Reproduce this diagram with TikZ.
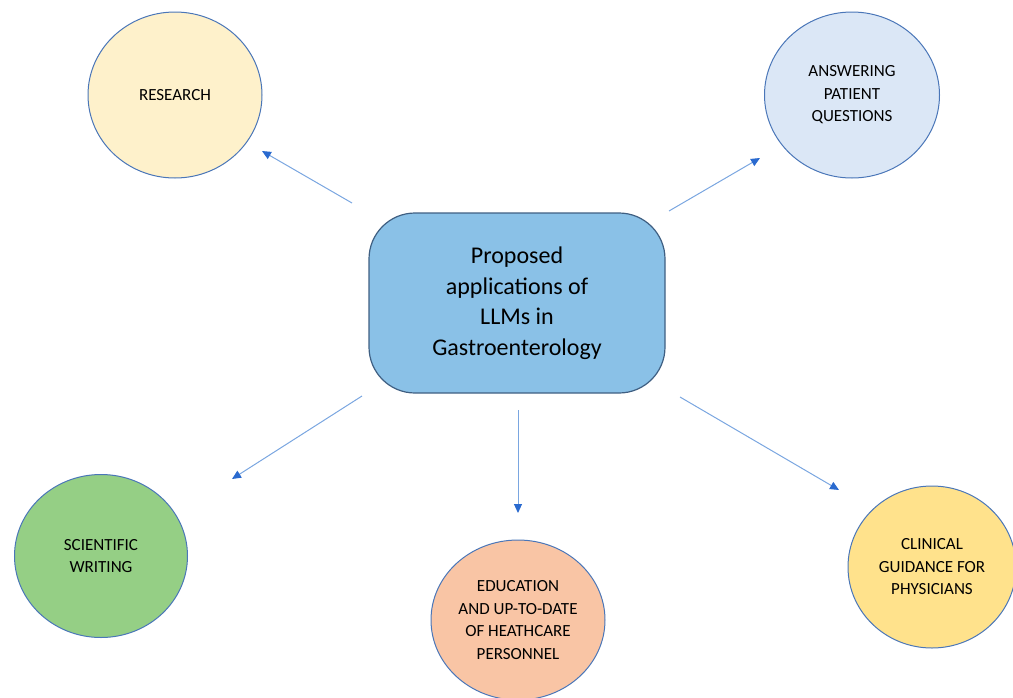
\documentclass[tikz,border=0pt]{standalone}
\usepackage{fontspec}
\setmainfont{Carlito}
\usetikzlibrary{shapes.geometric,arrows.meta}
\definecolor{outl}{HTML}{4A76B8}
\definecolor{boxl}{HTML}{3F5F82}
\definecolor{arr}{HTML}{7AA6E0}
\definecolor{arrh}{HTML}{2A6ACF}
\definecolor{cres}{HTML}{FEF1CB}
\definecolor{cans}{HTML}{DBE7F6}
\definecolor{cmain}{HTML}{8AC1E7}
\definecolor{csci}{HTML}{95CF85}
\definecolor{cedu}{HTML}{F9C5A5}
\definecolor{ccli}{HTML}{FFE28C}
\tikzset{
  bubble/.style={ellipse, draw=outl, line width=1pt, inner sep=0pt, align=center,
    font=\fontsize{17}{22.5}\selectfont, text=black},
  mainbox/.style={rectangle, rounded corners=46pt, draw=boxl, line width=1.2pt, fill=cmain,
    minimum width=296pt, minimum height=180pt, align=center,
    font=\fontsize{24}{30.5}\selectfont, text=black},
  link/.style={draw=arr, line width=1pt, -{Triangle[length=9pt,width=8pt,color=arrh]}}
}
\begin{document}
\begin{tikzpicture}[x=1pt,y=-1pt]
\useasboundingbox (0,0) rectangle (1013,697);
\node[mainbox] (main) at (517,303) {Proposed\\applications of\\LLMs in\\Gastroenterology};
\node[bubble, fill=cres, minimum width=174pt, minimum height=166pt] (res) at (175,95) {RESEARCH};
\node[bubble, fill=cans, minimum width=175pt, minimum height=166pt] (ans) at (852,95) {ANSWERING\\PATIENT\\QUESTIONS};
\node[bubble, fill=csci, minimum width=173pt, minimum height=163pt] (sci) at (101,556) {SCIENTIFIC\\WRITING};
\node[bubble, fill=cedu, minimum width=174pt, minimum height=160pt] (edu) at (518,620) {EDUCATION\\AND UP-TO-DATE\\OF HEATHCARE\\PERSONNEL};
\node[bubble, fill=ccli, minimum width=168pt, minimum height=162pt] (cli) at (932,567) {CLINICAL\\GUIDANCE FOR\\PHYSICIANS};
\coordinate (s1) at (352,203); \coordinate (e1) at (262,151);
\coordinate (s2) at (669,211); \coordinate (e2) at (760,158);
\coordinate (s3) at (362,396); \coordinate (e3) at (232,479);
\coordinate (s4) at (518,410); \coordinate (e4) at (518,513);
\coordinate (s5) at (680,397); \coordinate (e5) at (839,490);
\draw[link] (s1) -- (e1);
\draw[link] (s2) -- (e2);
\draw[link] (s3) -- (e3);
\draw[link] (s4) -- (e4);
\draw[link] (s5) -- (e5);
\end{tikzpicture}
\end{document}
